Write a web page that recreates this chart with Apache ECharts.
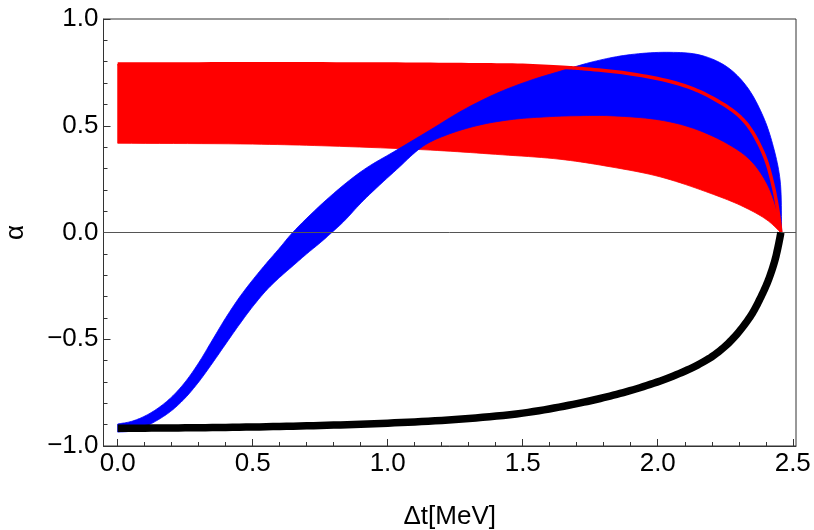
<!DOCTYPE html>
<html><head><meta charset="utf-8">
<script src="https://cdn.jsdelivr.net/npm/echarts@6/dist/echarts.min.js"></script>
<style>html,body{margin:0;padding:0;background:#fff}#c{width:814px;height:530px}</style>
</head><body><div id="c"></div>
<script>
// ---- data ----
const xTicks = [0, 0.5, 1.0, 1.5, 2.0, 2.5];
const xMinorTicks = [0.1,0.2,0.3,0.4,0.6,0.7,0.8,0.9,1.1,1.2,1.3,1.4,1.6,1.7,1.8,1.9,2.1,2.2,2.3,2.4];

const blueUpperX = [0, 0.05, 0.1, 0.15, 0.2, 0.25, 0.3, 0.35, 0.4, 0.45, 0.5, 0.55, 0.6, 0.648, 0.786, 0.91, 1.033, 1.157, 1.28, 1.404, 1.527, 1.638, 1.761, 1.885, 2.033, 2.157, 2.255, 2.33, 2.391, 2.428, 2.453, 2.459];
const blueUpperY = [-0.897, -0.885, -0.86, -0.822, -0.77, -0.70, -0.61, -0.505, -0.40, -0.305, -0.222, -0.145, -0.072, 0.0, 0.168, 0.293, 0.386, 0.48, 0.574, 0.652, 0.712, 0.755, 0.80, 0.831, 0.844, 0.831, 0.777, 0.683, 0.542, 0.402, 0.246, 0.0];
const blueLowerX = [0, 0.05, 0.1, 0.15, 0.2, 0.25, 0.3, 0.35, 0.4, 0.45, 0.5, 0.552, 0.6, 0.65, 0.7, 0.75, 0.793, 0.836, 0.91, 1.033, 1.132, 1.218, 1.342, 1.465, 1.589, 1.70, 1.823, 2.008, 2.132, 2.255, 2.342, 2.404, 2.441, 2.459];
const blueLowerY = [-0.935, -0.93, -0.91, -0.877, -0.834, -0.775, -0.70, -0.613, -0.522, -0.432, -0.347, -0.269, -0.21, -0.155, -0.10, -0.048, 0.0, 0.05, 0.15, 0.295, 0.405, 0.457, 0.504, 0.530, 0.542, 0.547, 0.547, 0.527, 0.488, 0.418, 0.34, 0.23, 0.105, 0.0];

const redUpperX = [0, 0.5, 1.0, 1.3, 1.5, 1.675, 1.725, 1.885, 2.07, 2.194, 2.317, 2.391, 2.428, 2.45, 2.456];
const redUpperY = [0.789, 0.790, 0.789, 0.786, 0.783, 0.772, 0.767, 0.746, 0.699, 0.636, 0.527, 0.371, 0.215, 0.06, 0.0];
const redLowerX = [0, 0.5, 0.786, 1.157, 1.4, 1.638, 1.823, 2.008, 2.194, 2.317, 2.404, 2.456];
const redLowerY = [0.418, 0.414, 0.405, 0.386, 0.366, 0.343, 0.308, 0.261, 0.184, 0.121, 0.059, 0.0];

const blackX = [0, 0.25, 0.5, 0.75, 1.0, 1.25, 1.5, 1.687, 1.811, 1.934, 2.058, 2.156, 2.218, 2.28, 2.342, 2.379, 2.41, 2.434, 2.45, 2.456];
const blackY = [-0.917, -0.915, -0.911, -0.904, -0.893, -0.876, -0.846, -0.805, -0.770, -0.727, -0.672, -0.615, -0.566, -0.495, -0.395, -0.310, -0.222, -0.130, -0.040, 0.0];

// ---- helpers ----
const zip = (xs, ys) => xs.map((x, i) => [x, ys[i]]);
// centripetal Catmull-Rom through pixel points (rendering only)
function crSpline(P, seg) {
  const n = P.length, out = [];
  const get = i => i < 0 ? [2 * P[0][0] - P[1][0], 2 * P[0][1] - P[1][1]]
    : i >= n ? [2 * P[n - 1][0] - P[n - 2][0], 2 * P[n - 1][1] - P[n - 2][1]] : P[i];
  const d = (a, b) => Math.max(Math.pow(Math.hypot(b[0] - a[0], b[1] - a[1]), 0.5), 1e-4);
  for (let i = 0; i < n - 1; i++) {
    const p0 = get(i - 1), p1 = P[i], p2 = P[i + 1], p3 = get(i + 2);
    const t0 = 0, t1 = t0 + d(p0, p1), t2 = t1 + d(p1, p2), t3 = t2 + d(p2, p3);
    for (let k = 0; k < seg; k++) {
      const t = t1 + (t2 - t1) * k / seg;
      const L = (a, b, ta, tb) => [((tb - t) * a[0] + (t - ta) * b[0]) / (tb - ta), ((tb - t) * a[1] + (t - ta) * b[1]) / (tb - ta)];
      const A1 = L(p0, p1, t0, t1), A2 = L(p1, p2, t1, t2), A3 = L(p2, p3, t2, t3);
      const B1 = L(A1, A2, t0, t2), B2 = L(A2, A3, t1, t3);
      out.push(L(B1, B2, t1, t2));
    }
  }
  out.push(P[n - 1]);
  return out;
}
function band(ux, uy, lx, ly, color, z) {
  return {
    type: 'custom', z: z, silent: true,
    data: [[ux[0], uy[0]]],
    renderItem: function (params, api) {
      const up = crSpline(zip(ux, uy).map(p => api.coord(p)), 10);
      const lo = crSpline(zip(lx, ly).map(p => api.coord(p)), 10);
      return {
        type: 'polygon',
        shape: { points: up.concat(lo.reverse()) },
        style: { fill: color, stroke: color, lineWidth: 0.8 }
      };
    }
  };
}
function curve(xs, ys, color, width, z) {
  return {
    type: 'custom', z: z, silent: true,
    data: [[xs[0], ys[0]]],
    renderItem: function (params, api) {
      return {
        type: 'polyline',
        shape: { points: crSpline(zip(xs, ys).map(p => api.coord(p)), 10) },
        style: { fill: null, stroke: color, lineWidth: width, lineCap: 'butt', lineJoin: 'round' }
      };
    }
  };
}
const FONT = "'Liberation Sans', Arial, Helvetica, sans-serif";
const fmt = v => Number(v).toFixed(1).replace('-', '\u2212');

const chart = echarts.init(document.getElementById('c'), null, { renderer: 'canvas' });
chart.setOption({
  animation: false,
  backgroundColor: '#fff',
  grid: { left: 103.5, right: 18, top: 19, bottom: 84, show: true, borderColor: '#333', borderWidth: 1,
          containLabel: false, outerBoundsMode: 'none' },
  xAxis: [{
    type: 'value', min: -0.0526, max: 2.512,
    name: '\u0394t[MeV]', nameLocation: 'middle', nameGap: 58,
    nameTextStyle: { fontFamily: FONT, fontSize: 26, color: '#000' },
    axisLine: { show: true, onZero: false, lineStyle: { color: '#333', width: 1 } },
    axisTick: { show: true, inside: true, length: 7, customValues: xTicks, lineStyle: { color: '#333' } },
    axisLabel: { customValues: xTicks, formatter: fmt, fontFamily: FONT, fontSize: 26, color: '#000', margin: 5 },
    splitLine: { show: false }
  }, {
    type: 'value', min: -0.0526, max: 2.512, position: 'bottom',
    axisLine: { show: false, onZero: false },
    axisTick: { show: true, inside: true, length: 4, customValues: xMinorTicks, lineStyle: { color: '#333' } },
    axisLabel: { show: false },
    splitLine: { show: false }
  }],
  yAxis: {
    type: 'value', min: -1, max: 1, interval: 0.5,
    name: '\u03b1', nameLocation: 'middle', nameGap: 75,
    nameTextStyle: { fontFamily: FONT, fontSize: 26, color: '#000' },
    axisLine: { show: true, onZero: false, lineStyle: { color: '#333', width: 1 } },
    axisTick: { show: true, inside: true, length: 7, lineStyle: { color: '#333' } },
    minorTick: { show: true, splitNumber: 5, length: 4, lineStyle: { color: '#333' } },
    axisLabel: { formatter: fmt, fontFamily: FONT, fontSize: 26, color: '#000', margin: 5 },
    splitLine: { show: false }
  },
  series: [
    band(redUpperX, redUpperY, redLowerX, redLowerY, '#ff0000', 1),
    band(blueUpperX, blueUpperY, blueLowerX, blueLowerY, '#0000ff', 2),
    curve(redUpperX, redUpperY, '#ff0000', 3.5, 3),
    {
      type: 'line', z: 4, silent: true, data: [],
      markLine: { silent: true, symbol: 'none', label: { show: false },
        lineStyle: { color: '#555', width: 1, type: 'solid' },
        data: [{ yAxis: 0 }] }
    },
    curve(blackX, blackY, '#000', 7.5, 5)
  ]
});
</script></body></html>
